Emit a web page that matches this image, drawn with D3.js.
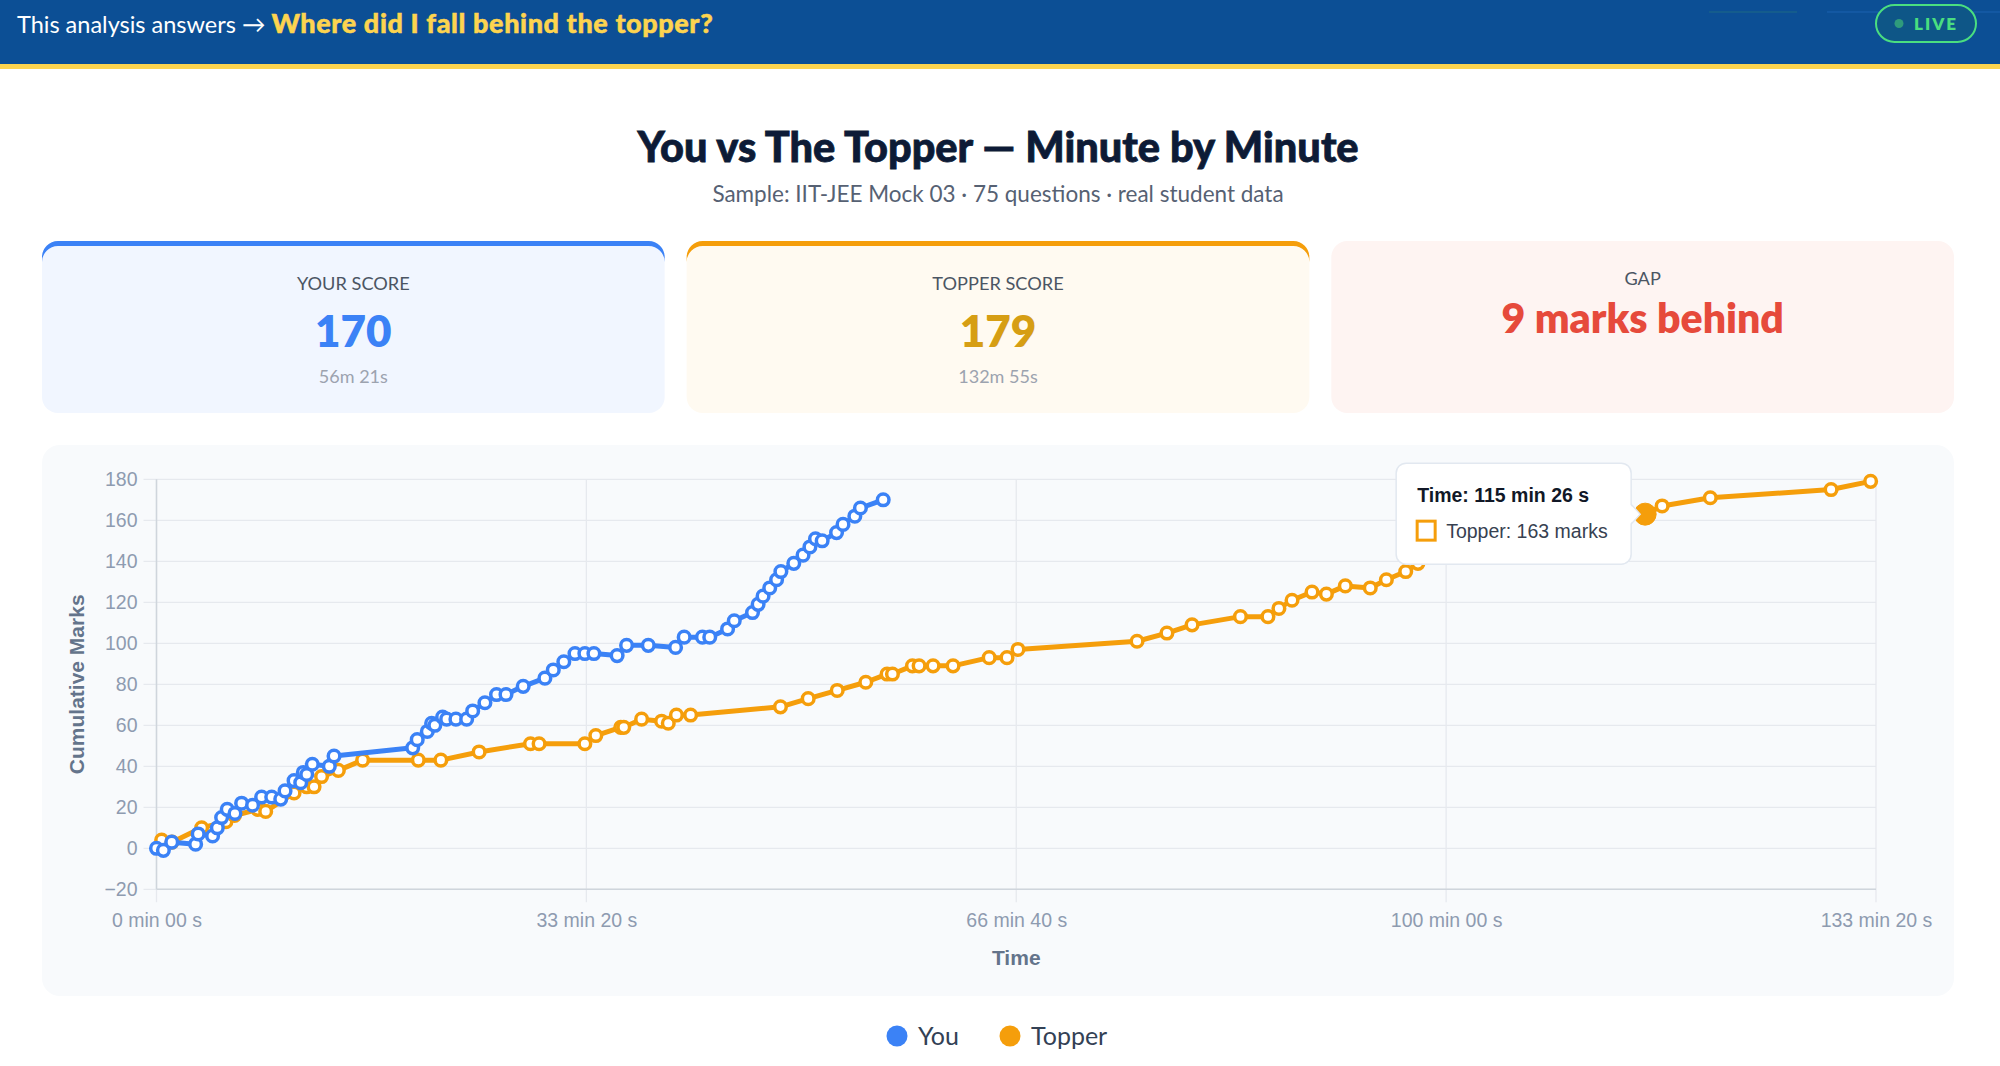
<!DOCTYPE html>
<html>
<head>
<meta charset="utf-8">
<script src="https://cdn.jsdelivr.net/npm/d3@7"></script>
<style>
  html, body { margin: 0; padding: 0; background: #fff; overflow: hidden; }
  svg { display: block; }
  text { font-family: Lato, "Open Sans", sans-serif; }
  .chart text { font-family: "Liberation Sans", Arial, sans-serif; }
</style>
</head>
<body>
<svg id="page" width="2000" height="1066"></svg>
<script>
// your attempt: seconds elapsed and cumulative marks
const youTimes = [0, 32, 71, 182, 194, 261, 283, 303, 329, 365, 396, 447, 489, 536, 578, 598, 640, 671, 683, 699,
  725, 804, 826, 1192, 1213, 1260, 1280, 1295, 1331, 1350, 1393, 1443, 1471, 1528, 1582, 1626, 1706, 1807, 1846, 1895,
  1947, 1993, 2035, 2143, 2187, 2288, 2415, 2455, 2540, 2574, 2657, 2688, 2773, 2799, 2822, 2853, 2885, 2905, 2965, 3008,
  3040, 3066, 3097, 3164, 3194, 3249, 3275, 3381];
const youMarks = [0, -1, 3, 2, 7, 6, 10, 15, 19, 17, 22, 21, 25, 25, 24, 28, 33, 32, 37, 36,
  41, 40, 45, 49, 53, 57, 61, 60, 64, 63, 63, 63, 67, 71, 75, 75, 79, 83, 87, 91,
  95, 95, 95, 94, 99, 99, 98, 103, 103, 103, 107, 111, 115, 119, 123, 127, 131, 135, 139, 143,
  147, 151, 150, 154, 158, 162, 166, 170];

// topper attempt
const topperTimes = [24, 72, 210, 323, 363, 471, 508, 640, 699, 733, 768, 846, 959, 1218, 1323, 1501, 1740, 1780, 1993, 2044,
  2160, 2174, 2257, 2350, 2381, 2419, 2485, 2903, 3032, 3167, 3300, 3399, 3424, 3517, 3548, 3613, 3706, 3874, 3957, 4008,
  4562, 4701, 4818, 5043, 5171, 5222, 5283, 5376, 5443, 5531, 5647, 5722, 5812, 5869, 6926, 7005, 7229, 7791, 7975];
const topperMarks = [4, 3, 10, 13, 16, 19, 18, 27, 30, 30, 35, 38, 43, 43, 43, 47, 51, 51, 51, 55,
  59, 59, 63, 62, 61, 65, 65, 69, 73, 77, 81, 85, 85, 89, 89, 89, 89, 93, 93, 97,
  101, 105, 109, 113, 113, 117, 121, 125, 124, 128, 127, 131, 135, 139, 163, 167, 171, 175, 179];

const xTicks = [0, 2000, 4000, 6000, 8000];
const yTicks = [-20, 0, 20, 40, 60, 80, 100, 120, 140, 160, 180];

const cardLabels = ["YOUR SCORE", "TOPPER SCORE", "GAP"];
const cardValues = ["170", "179", "9 marks behind"];
const cardTimes = ["56m 21s", "132m 55s", ""];
const seriesNames = ["You", "Topper"];
const hoverTime = 6926;

const BLUE = "#3b82f6";
const ORANGE = "#f59e0b";

let svg = d3.select("#page");

drawHeader();
drawTitle();
drawCards();
drawChart();

function fmtTime(t) {
  let m = Math.floor(t / 60);
  let s = t % 60;
  return `${m} min ${String(s).padStart(2, "0")} s`;
}

function roundRect(x, y, w, h, r) {
  let p = d3.path();
  p.moveTo(x + r, y);
  p.lineTo(x + w - r, y);
  p.arcTo(x + w, y, x + w, y + r, r);
  p.lineTo(x + w, y + h - r);
  p.arcTo(x + w, y + h, x + w - r, y + h, r);
  p.lineTo(x + r, y + h);
  p.arcTo(x, y + h, x, y + h - r, r);
  p.lineTo(x, y + r);
  p.arcTo(x, y, x + r, y, r);
  p.closePath();
  return p.toString();
}

function drawHeader() {
  svg.append("rect").attr("x", 0).attr("y", 0).attr("width", 2000).attr("height", 64).attr("fill", "#0c4f95");
  svg.append("rect").attr("x", 0).attr("y", 64).attr("width", 2000).attr("height", 5).attr("fill", "#fdd44f");

  // faint decorative strokes near the badge
  svg.append("line").attr("x1", 1709).attr("x2", 1797).attr("y1", 12).attr("y2", 12)
    .attr("stroke", "#1d6a86").attr("stroke-width", 1.2);
  svg.append("line").attr("x1", 1827).attr("x2", 2000).attr("y1", 12).attr("y2", 12)
    .attr("stroke", "#1a62b0").attr("stroke-width", 1);

  let t = svg.append("text").attr("x", 17).attr("y", 33).attr("font-size", 23.5);
  t.append("tspan").attr("fill", "#ffffff").text("This analysis answers → ");
  t.append("tspan").attr("fill", "#fdd44f").attr("font-weight", 900).attr("font-size", 27)
    .attr("letter-spacing", 0.6).attr("stroke", "#fdd44f").attr("stroke-width", 0.5)
    .text("Where did I fall behind the topper?");

  let badge = svg.append("g").attr("transform", "translate(1876,5)");
  badge.append("rect").attr("width", 100).attr("height", 37).attr("rx", 18.5)
    .attr("fill", "#0e5687").attr("stroke", "#4ade80").attr("stroke-width", 2);
  badge.append("circle").attr("cx", 23).attr("cy", 18.5).attr("r", 4.5).attr("fill", "#2f9b7c");
  badge.append("text").attr("x", 38).attr("y", 25).attr("font-size", 17).attr("font-weight", 800)
    .attr("letter-spacing", 2).attr("fill", "#4ade80").text("LIVE");
}

function drawTitle() {
  svg.append("text").attr("x", 998).attr("y", 162).attr("text-anchor", "middle")
    .attr("font-size", 41.5).attr("font-weight", 900).attr("fill", "#0d1b36")
    .attr("stroke", "#0d1b36").attr("stroke-width", 0.8)
    .text("You vs The Topper — Minute by Minute");
  svg.append("text").attr("x", 998).attr("y", 202).attr("text-anchor", "middle")
    .attr("font-size", 22.5).attr("fill", "#566173")
    .text("Sample: IIT-JEE Mock 03 · 75 questions · real student data");
}

function drawCards() {
  let left = 42, right = 1954, gap = 22, top = 241, h = 172;
  let w = (right - left - 2 * gap) / 3;
  let accents = [BLUE, ORANGE, null];
  let fills = ["#f1f6ff", "#fffaf1", "#fef4f2"];
  let valueColors = [BLUE, "#d69e14", "#e64a3b"];

  cardLabels.forEach((label, i) => {
    let g = svg.append("g").attr("transform", `translate(${left + i * (w + gap)},${top})`);
    g.append("path").attr("d", roundRect(0, 0, w, h, 16)).attr("fill", fills[i]);
    if (accents[i]) {
      let clipId = `accent-clip-${i}`;
      g.append("clipPath").attr("id", clipId)
        .append("rect").attr("x", -2).attr("y", -2).attr("width", w + 4).attr("height", 24);
      g.append("path")
        .attr("d", roundRect(0, 0, w, h, 16) + roundRect(0, 5, w, h - 5, 16))
        .attr("fill-rule", "evenodd").attr("fill", accents[i])
        .attr("clip-path", `url(#${clipId})`);
    }
    let isGap = cardTimes[i] === "";
    g.append("text").attr("x", w / 2).attr("y", isGap ? 44 : 49).attr("text-anchor", "middle")
      .attr("font-size", 18.2).attr("fill", "#4b5563").text(label);
    g.append("text").attr("x", w / 2).attr("y", isGap ? 92 : 106).attr("text-anchor", "middle")
      .attr("font-size", isGap ? 41 : 44).attr("font-weight", 800).attr("fill", valueColors[i])
      .text(cardValues[i]);
    if (!isGap) {
      g.append("text").attr("x", w / 2).attr("y", 142).attr("text-anchor", "middle")
        .attr("font-size", 18).attr("fill", "#9ca3af").text(cardTimes[i]);
    }
  });
}

function drawChart() {
  svg.append("rect").attr("x", 42).attr("y", 445).attr("width", 1912).attr("height", 551)
    .attr("rx", 18).attr("fill", "#f8fafc");

  let chart = svg.append("g").attr("class", "chart");
  let xScale = d3.scaleLinear().domain([0, 8000]).range([156.5, 1876]);
  let yScale = d3.scaleLinear().domain([-20, 180]).range([889.3, 479.3]);
  let [x0, x1] = xScale.range();
  let [yb, yt] = yScale.range();

  // grid
  let grid = chart.append("g");
  grid.selectAll(".hgrid").data(yTicks).enter().append("line")
    .attr("x1", x0 - 13).attr("x2", x1)
    .attr("y1", (d) => yScale(d)).attr("y2", (d) => yScale(d))
    .attr("stroke", "#e6e9ee").attr("stroke-width", 1.3);
  grid.selectAll(".vgrid").data(xTicks).enter().append("line")
    .attr("x1", (d) => xScale(d)).attr("x2", (d) => xScale(d))
    .attr("y1", yt).attr("y2", yb + 13)
    .attr("stroke", "#e6e9ee").attr("stroke-width", 1.3);
  grid.append("line").attr("x1", x0).attr("x2", x0).attr("y1", yt).attr("y2", yb)
    .attr("stroke", "#cfd5dc").attr("stroke-width", 1.5);
  grid.append("line").attr("x1", x0).attr("x2", x1).attr("y1", yb).attr("y2", yb)
    .attr("stroke", "#cfd5dc").attr("stroke-width", 1.5);

  let yAxis = d3.axisLeft(yScale).tickValues(yTicks).tickSize(0).tickPadding(19);
  let gy = chart.append("g").attr("transform", `translate(${x0},0)`).call(yAxis);
  let xAxis = d3.axisBottom(xScale).tickValues(xTicks).tickFormat(fmtTime).tickSize(0).tickPadding(24);
  let gx = chart.append("g").attr("transform", `translate(0,${yb})`).call(xAxis);
  [gx, gy].forEach((g) => {
    g.select(".domain").remove();
    g.selectAll("text").attr("font-size", 19.5).attr("fill", "#8e9bb0")
      .attr("font-family", "'Liberation Sans', Arial, sans-serif");
  });

  chart.append("text").attr("transform", `translate(84,${(yt + yb) / 2}) rotate(-90)`)
    .attr("text-anchor", "middle").attr("font-size", 21).attr("font-weight", 700)
    .attr("fill", "#64748b").text("Cumulative Marks");
  chart.append("text").attr("x", (x0 + x1) / 2).attr("y", 965).attr("text-anchor", "middle")
    .attr("font-size", 21).attr("font-weight", 700).attr("fill", "#64748b").text("Time");

  let you = youTimes.map((t, i) => ({ t, m: youMarks[i] }));
  let topper = topperTimes.map((t, i) => ({ t, m: topperMarks[i] }));
  let line = d3.line().x((d) => xScale(d.t)).y((d) => yScale(d.m));

  let series = [
    { data: topper, color: ORANGE },
    { data: you, color: BLUE },
  ];
  series.forEach((s) => {
    let g = chart.append("g");
    g.append("path").datum(s.data).attr("d", line).attr("fill", "none")
      .attr("stroke", s.color).attr("stroke-width", 5).attr("stroke-linejoin", "round");
    g.selectAll("circle").data(s.data).enter().append("circle")
      .attr("cx", (d) => xScale(d.t)).attr("cy", (d) => yScale(d.m)).attr("r", 5.8)
      .attr("fill", "#fff").attr("stroke", s.color).attr("stroke-width", 3.5);
  });

  // hovered topper point + tooltip
  let hp = topper.find((d) => d.t === hoverTime);
  let hx = xScale(hp.t), hy = yScale(hp.m);
  chart.append("circle").attr("cx", hx).attr("cy", hy).attr("r", 11)
    .attr("fill", ORANGE).attr("stroke", ORANGE).attr("stroke-width", 1);

  let tw = 235, th = 101;
  let tx = hx - 14 - tw, ty = hy - 51;
  let tip = chart.append("g").attr("transform", `translate(${tx},${ty})`);
  tip.append("path")
    .attr("d", `M${tw - 1},${51 - 11} L${tw + 9},51 L${tw - 1},${51 + 11} Z`)
    .attr("fill", "#fff").attr("stroke", "#e2e8f0").attr("stroke-width", 1.5);
  tip.append("rect").attr("width", tw).attr("height", th).attr("rx", 10)
    .attr("fill", "#fff").attr("stroke", "#e2e8f0").attr("stroke-width", 1.5);
  tip.append("path")
    .attr("d", `M${tw - 1.5},${51 - 10} L${tw + 7.5},51 L${tw - 1.5},${51 + 10} Z`)
    .attr("fill", "#fff");
  tip.append("text").attr("x", 21).attr("y", 39).attr("font-size", 19.5).attr("font-weight", 700)
    .attr("fill", "#111827").text(`Time: ${fmtTime(hp.t)}`);
  tip.append("rect").attr("x", 21).attr("y", 58).attr("width", 18).attr("height", 19)
    .attr("fill", "#fff").attr("stroke", ORANGE).attr("stroke-width", 3);
  tip.append("text").attr("x", 50).attr("y", 75).attr("font-size", 19.5)
    .attr("fill", "#374151").text(`Topper: ${hp.m} marks`);

  // legend below the panel
  let legend = svg.append("g");
  let lx = [897, 1010];
  seriesNames.forEach((name, i) => {
    legend.append("circle").attr("cx", lx[i]).attr("cy", 1036).attr("r", 10.5)
      .attr("fill", i === 0 ? BLUE : ORANGE);
    legend.append("text").attr("x", lx[i] + 21).attr("y", 1045).attr("font-size", 25)
      .attr("fill", "#334155").text(name);
  });
}
</script>
</body>
</html>
